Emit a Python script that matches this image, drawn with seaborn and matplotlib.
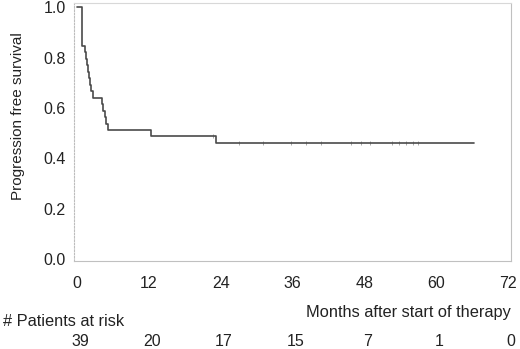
import numpy as np
import pandas as pd
import matplotlib
matplotlib.use('Agg')
import matplotlib.pyplot as plt
import matplotlib.transforms as mtransforms
import seaborn as sns

# Kaplan-Meier step values (months, survival)
step_time = [0, 0.8, 1.3, 1.5, 1.7, 1.85, 2.0, 2.2, 2.4, 2.6, 4.1, 4.4, 4.7, 4.9, 5.2, 12.4, 23.2, 66.3]
step_surv = [1.0, 0.846, 0.821, 0.795, 0.769, 0.744, 0.718, 0.692, 0.667, 0.641,
             0.615, 0.590, 0.564, 0.538, 0.513, 0.487, 0.462, 0.462]
# censored observations (months)
censor_time = [22.7, 27.1, 31.0, 35.8, 38.2, 40.7, 45.7, 47.5, 48.9, 52.7, 53.8, 55.0, 56.2, 57.0]

risk_months = [0, 12, 24, 36, 48, 60, 72]
risk_counts = [39, 20, 17, 15, 7, 1, 0]

sns.set_style('white')
plt.rcParams['font.family'] = ['Liberation Sans', 'DejaVu Sans']
FS = 11.5

curve = pd.DataFrame({'Months': step_time, 'PFS': step_surv})
idx = np.searchsorted(step_time, censor_time, side='right') - 1
cens = pd.DataFrame({'Months': censor_time, 'PFS': np.array(step_surv)[idx]})

fig = plt.figure(figsize=(5.2, 3.49), dpi=100)
ax = fig.add_axes([0.1423, 0.2521, 0.8404, 0.7384])

sns.lineplot(data=curve, x='Months', y='PFS', drawstyle='steps-post',
             color='#4a4a4a', linewidth=1.2, ax=ax)
sns.scatterplot(data=cens, x='Months', y='PFS', marker='|', s=12,
                color='#9a9a9a', linewidth=0.6, ax=ax)

ax.set_xlim(-0.5, 72.5)
ax.set_ylim(-0.008, 1.016)
ax.set_xticks(risk_months)
ax.set_yticks([0.0, 0.2, 0.4, 0.6, 0.8, 1.0])
ax.set_yticklabels(['0.0', '0.2', '0.4', '0.6', '0.8', '1.0'])
ax.tick_params(axis='both', labelsize=FS, length=3, width=0.6, color='#b0b0b0',
               labelcolor='#222222', direction='out', pad=8)
ax.tick_params(axis='y', pad=3)
ax.set_xlabel('')
ax.set_ylabel('Progression free survival', fontsize=11, color='#222222')
ax.yaxis.set_label_coords(-0.112, 0.563)

ax.spines['top'].set_color('#d8d8d8')
ax.spines['right'].set_color('#c0c0c0')
ax.spines['bottom'].set_color('#c0c0c0')
ax.spines['left'].set_color('#bdbdbd')
ax.spines['left'].set_linestyle((0, (1.5, 1.5)))
for s in ax.spines.values():
    s.set_linewidth(0.8)

trans = mtransforms.blended_transform_factory(ax.transData, fig.transFigure)
for m, n in zip(risk_months, risk_counts):
    ax.text(m + 0.5, 1 - 341 / 349, str(n), transform=trans, ha='center', va='center',
            fontsize=FS, color='#222222')

fig.text(3 / 520, 1 - 321 / 349, '# Patients at risk', ha='left', va='center',
         fontsize=11.8, color='#222222')
fig.text(511 / 520, 1 - 313 / 349, 'Months after start of therapy', ha='right', va='center',
         fontsize=11.8, color='#222222')

fig.savefig('out.png', dpi=100)
